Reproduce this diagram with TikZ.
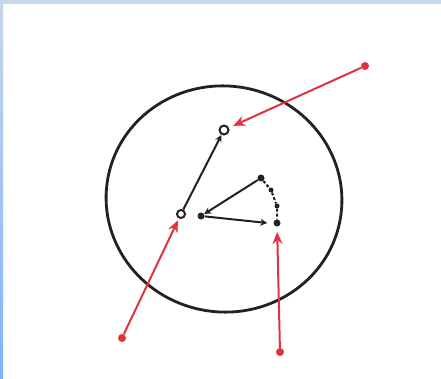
\documentclass[tikz,border=0pt]{standalone}
\usepackage{tikz}
\usetikzlibrary{arrows.meta, positioning, calc}
\definecolor{inkBd}{HTML}{222222}
\definecolor{hitBd}{HTML}{E0333D}
\definecolor{frameTop}{HTML}{C6D6EC}
\definecolor{frameLo}{HTML}{80B2FA}

\begin{document}
\begin{tikzpicture}[
  x=1pt, y=-1pt,
  dot/.style={circle, fill=inkBd, inner sep=0pt, minimum size=7pt},
  ring/.style={circle, draw=inkBd, fill=white, line width=2pt, inner sep=0pt,
               minimum size=9pt},
  bead/.style={circle, fill=inkBd, inner sep=0pt, minimum size=5pt},
  src/.style={circle, fill=hitBd, inner sep=0pt, minimum size=8pt},
  link/.style={-{Stealth[length=7pt, width=7pt]}, line width=2pt, draw=inkBd},
  hit/.style={-{Stealth[length=12pt, width=10pt]}, line width=2pt, draw=hitBd},
]
\useasboundingbox (0,0) rectangle (441,379);

% ---------------------------- frame ---------------------------------------
\fill[white] (0,0) rectangle (441,379);
\fill[frameTop] (0,0) rectangle (441,4);
\shade[top color=frameTop, bottom color=frameLo] (0,0) rectangle (3,379);

% ---------------------------- the boundary --------------------------------
\draw[inkBd, line width=2.8pt, rotate around={-8:(224,199)}]
  (224,199) ellipse [x radius=118, y radius=113];

% ---------------------------- inner nodes ---------------------------------
\node[ring] (top)  at (224,130) {};
\node[ring, minimum size=8pt] (lft) at (181,214) {};
\node[dot]  (mid)  at (201,216) {};
\node[dot]  (apex) at (261,178) {};
\node[dot]  (tip)  at (277,223) {};
\node[bead] (d1)   at (271,190) {};
\node[bead] (d2)   at (277,206) {};

% ---------------------------- inner flow ----------------------------------
\draw[link] (lft) -- (top);
\draw[link] (apex) -- (mid);
\draw[link] (mid) -- ([xshift=-6pt]tip.west);
\draw[inkBd, line width=2pt, dash pattern=on 3pt off 2pt]
  (apex) -- (d1) -- (d2) -- (tip);

% ---------------------------- hits from outside ---------------------------
\node[src] (s1) at (365,66)  {};
\node[src] (s2) at (122,338) {};
\node[src] (s3) at (280,352) {};

\draw[hit] (s1) -- ($(top)!10pt!(s1)$);
\draw[hit] (s2) -- ($(lft)!7pt!(s2)$);
\draw[hit] (s3) -- ($(tip)!9pt!(s3)$);

\end{tikzpicture}
\end{document}
